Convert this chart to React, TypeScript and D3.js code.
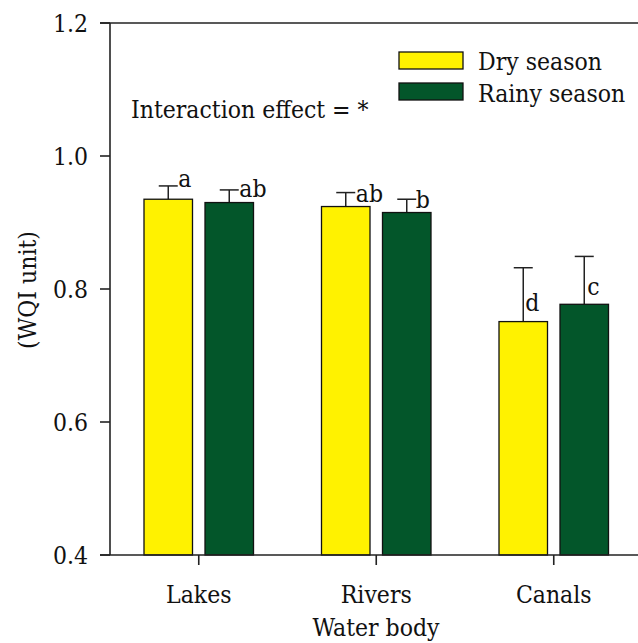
import React from "react";
import * as d3 from "d3";

const categories = ["Lakes", "Rivers", "Canals"];
const seriesNames = ["Dry season", "Rainy season"];
const dryValues = [0.935, 0.924, 0.751];
const rainyValues = [0.93, 0.915, 0.777];
const dryErrors = [0.02, 0.021, 0.081];
const rainyErrors = [0.019, 0.02, 0.072];
const dryLetters = ["a", "ab", "d"];
const rainyLetters = ["ab", "b", "c"];
const dryLetterY = [0.954, 0.9305, 0.7675];
const rainyLetterY = [0.9388, 0.9215, 0.791];
const yTicks = [0.4, 0.6, 0.8, 1.0, 1.2];
const annotation = "Interaction effect = *";
const xTitle = "Water body";
const yTitle = "(WQI unit)";

const W = 638;
const H = 643;
const FONT = '"DejaVu Serif Condensed", "DejaVu Serif", serif';
const FS = 24.5;
const COLORS = ["#FFF200", "#03562A"];
const letterDx = [[10, 10, 2], [10, 9, 3]];

export default function App() {
  const x = d3.scaleBand<string>().domain(categories).range([110, 642.5]).padding(0);
  const y = d3.scaleLinear().domain([0.4, 1.2]).range([555, 23]);
  const barW = 48.5;
  const off = 30.5;
  const series = [
    { name: seriesNames[0], values: dryValues, errors: dryErrors, letters: dryLetters, ly: dryLetterY, color: COLORS[0], sign: -1 },
    { name: seriesNames[1], values: rainyValues, errors: rainyErrors, letters: rainyLetters, ly: rainyLetterY, color: COLORS[1], sign: 1 },
  ];
  const cx = (c: string) => (x(c) as number) + x.bandwidth() / 2;
  const ts: React.CSSProperties = { fontFamily: FONT, fontSize: FS };

  return (
    <svg width={W} height={H} style={{ position: "absolute", left: 0, top: 0, background: "#fff" }}>
      {/* bars */}
      {series.map((s, si) =>
        categories.map((c, i) => {
          const bx = cx(c) + s.sign * off;
          const top = y(s.values[i]);
          const capY = y(s.values[i] + s.errors[i]);
          return (
            <g key={`${si}-${i}`}>
              <line x1={bx} x2={bx} y1={top} y2={capY} stroke="#222" strokeWidth={1.5} />
              <line x1={bx - 9.5} x2={bx + 9.5} y1={capY} y2={capY} stroke="#222" strokeWidth={1.5} />
              <rect x={bx - barW / 2} y={top} width={barW} height={y(0.4) - top} fill={s.color} stroke="#111" strokeWidth={1.3} />
              <text x={bx + letterDx[si][i]} y={y(s.ly[i])} style={ts} fill="#111">{s.letters[i]}</text>
            </g>
          );
        })
      )}
      {/* axes */}
      <line x1={100} x2={638} y1={y(1.2)} y2={y(1.2)} stroke="#222" strokeWidth={1.6} />
      <line x1={100} x2={638} y1={y(0.4)} y2={y(0.4)} stroke="#222" strokeWidth={1.6} />
      <line x1={110} x2={110} y1={y(1.2)} y2={y(0.4)} stroke="#222" strokeWidth={1.6} />
      {yTicks.map((t) => (
        <g key={t}>
          <line x1={100} x2={110} y1={y(t)} y2={y(t)} stroke="#222" strokeWidth={1.6} />
          <text x={88} y={y(t) + 9} textAnchor="end" style={ts} fill="#111">{t.toFixed(1)}</text>
        </g>
      ))}
      {categories.map((c) => (
        <g key={c}>
          <line x1={cx(c)} x2={cx(c)} y1={555} y2={565} stroke="#222" strokeWidth={1.6} />
          <text x={cx(c)} y={603} textAnchor="middle" style={ts} fill="#111">{c}</text>
        </g>
      ))}
      <text x={376} y={636} textAnchor="middle" style={ts} fill="#111">{xTitle}</text>
      <text transform="translate(36,290) rotate(-90)" textAnchor="middle" style={ts} fill="#111">{yTitle}</text>
      <text x={131} y={118} style={ts} fill="#111">{annotation}</text>
      {/* legend */}
      {series.map((s, si) => (
        <g key={s.name}>
          <rect x={399} y={52 + si * 31} width={64} height={17} fill={s.color} stroke="#111" strokeWidth={1.3} />
          <text x={478} y={70 + si * 31.5} style={ts} fill="#111">{s.name}</text>
        </g>
      ))}
    </svg>
  );
}
